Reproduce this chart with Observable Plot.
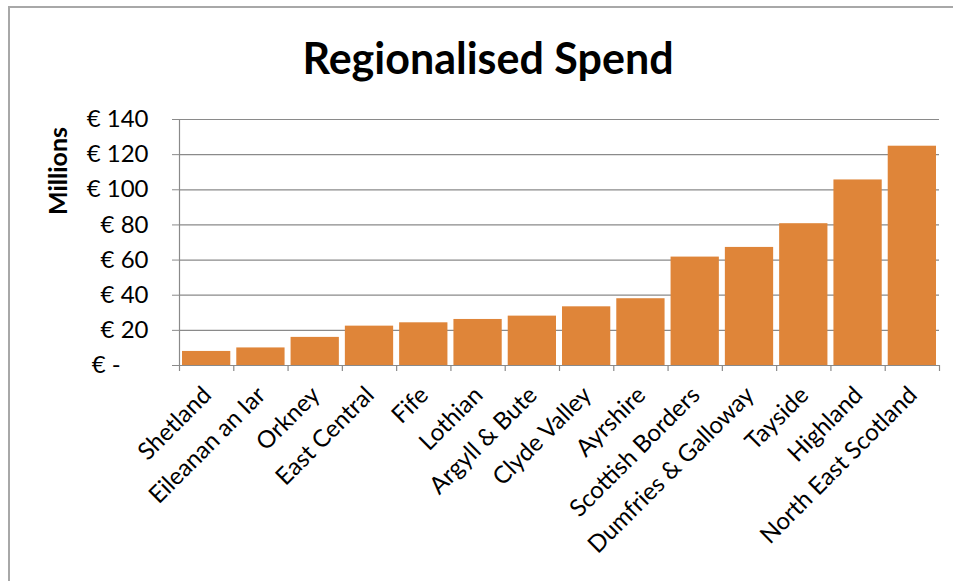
<!DOCTYPE html>
<html>
<head>
<meta charset="utf-8">
<script src="https://cdn.jsdelivr.net/npm/d3@7"></script>
<script src="https://cdn.jsdelivr.net/npm/@observablehq/plot@0.6"></script>
<style>
  html, body { margin: 0; padding: 0; background: #fff; }
  body { width: 953px; height: 581px; position: relative; overflow: hidden; font-family: Lato, "Open Sans", sans-serif; }
  #frame { position: absolute; left: 8px; top: 6px; width: 960px; height: 600px; border-left: 2px solid #a8a8a8; border-top: 2px solid #a8a8a8; pointer-events: none; }
  #title { position: absolute; left: 0; top: 0; width: 976px; height: 100px; text-align: center; font-weight: bold; font-size: 43px; line-height: 1; padding-top: 36px; box-sizing: border-box; color: #000; }
  #ylabel { position: absolute; left: 57px; top: 171px; transform: translate(-50%, -50%) rotate(-90deg); font-weight: bold; font-size: 25px; color: #000; white-space: nowrap; }
  #chart { position: absolute; left: 0; top: 100px; }
</style>
</head>
<body>
<div id="title">Regionalised Spend</div>
<div id="ylabel">Millions</div>
<div id="chart"></div>
<div id="frame"></div>
<script>
const regions = ["Shetland", "Eileanan an Iar", "Orkney", "East Central", "Fife", "Lothian", "Argyll & Bute", "Clyde Valley", "Ayrshire", "Scottish Borders", "Dumfries & Galloway", "Tayside", "Highland", "North East Scotland"];
const spend = [8, 10, 16, 22.4, 24.3, 26.2, 28.1, 33.4, 38, 61.7, 67.2, 80.7, 105.6, 124.8];
const yTicks = [0, 20, 40, 60, 80, 100, 120, 140];
const yTickLabels = ["€ -\u2007\u2007", "€ 20", "€ 40", "€ 60", "€ 80", "€ 100", "€ 120", "€ 140"];

const data = regions.map((r, i) => ({region: r, idx: i, value: spend[i]}));
const bounds = d3.range(regions.length + 1);
const grey = "#8a8a8a";

const chart = Plot.plot({
  width: 953,
  height: 481,
  marginTop: 19,
  marginBottom: 216,
  marginLeft: 179,
  marginRight: 14,
  style: {fontFamily: "Lato, 'Open Sans', sans-serif", background: "transparent", color: "#000"},
  x: {domain: [0, regions.length], axis: null},
  y: {domain: [0, 140], axis: null},
  marks: [
    Plot.ruleY(yTicks.slice(1), {stroke: grey, strokeWidth: 1.2}),
    Plot.rectY(data, {x1: d => d.idx, x2: d => d.idx + 1, y: "value", fill: "#df8539", insetLeft: 3, insetRight: 3}),
    Plot.ruleX([0], {stroke: grey, strokeWidth: 1.2}),
    Plot.ruleY([0], {stroke: grey, strokeWidth: 1.2}),
    Plot.ruleX(bounds, {y1: 0, y2: 0, insetBottom: -6, stroke: grey, strokeWidth: 1.2}),
    Plot.axisY(yTicks, {
      tickSize: 7, tickPadding: 24, stroke: grey, fontSize: 24, fill: "#000",
      tickFormat: d => yTickLabels[yTicks.indexOf(d)], label: null
    }),
    Plot.text(data, {
      x: d => d.idx + 0.5, text: "region", frameAnchor: "bottom",
      rotate: -45, textAnchor: "end", lineAnchor: "top", dx: -6, dy: 19,
      fontSize: 24, fill: "#000"
    })
  ]
});
document.getElementById("chart").appendChild(chart);
</script>
</body>
</html>
